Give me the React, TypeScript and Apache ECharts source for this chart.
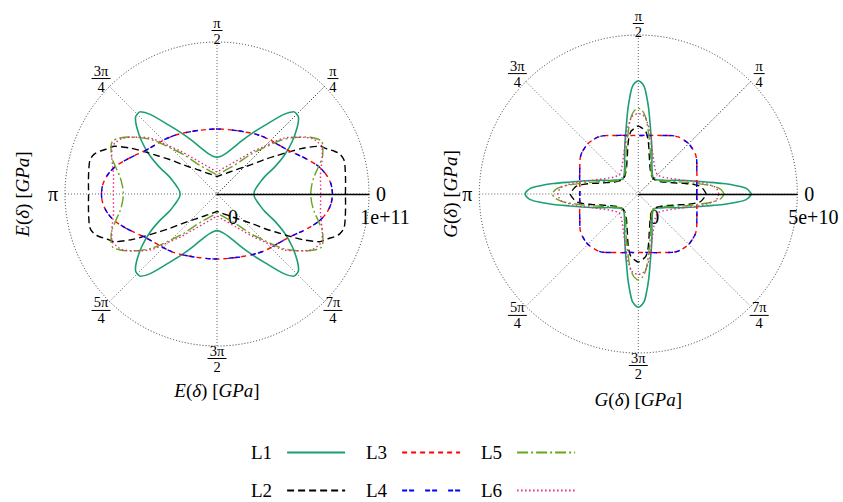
import React, { useEffect, useRef } from 'react';
import * as echarts from 'echarts';

// Directional Young's modulus E(δ) and shear modulus G(δ) for six laminates,
// given over the first quadrant (δ in degrees); the orthotropic symmetry
// (δ → π−δ, π+δ, 2π−δ) completes each curve.
const SERIES_NAMES = ['L1', 'L2', 'L3', 'L4', 'L5', 'L6'];

// E(δ) in Pa: [δ (deg), value]
const E_L1: [number, number][] = [
  [0, 24.3e9], [5, 24.8e9], [10, 26.6e9], [15, 29.3e9], [20, 33.4e9], [25, 41.8e9],
  [30, 51.3e9], [35, 60.5e9], [40, 69.1e9], [43, 73.4e9], [45, 74.3e9], [47, 74.0e9],
  [50, 68.4e9], [55, 55.3e9], [60, 46.1e9], [65, 38.8e9], [70, 32.9e9], [75, 28.9e9],
  [80, 26.3e9], [85, 24.7e9], [90, 24.1e9],
];
const E_L2: [number, number][] = [
  [0, 84.5e9], [5, 84.9e9], [10, 85.7e9], [15, 86.5e9], [18, 84.9e9], [20, 82.2e9],
  [22, 78.6e9], [25, 74.3e9], [28, 64.1e9], [30, 56.1e9], [33, 45.9e9], [36, 38.6e9],
  [40, 30.5e9], [45, 24.9e9], [50, 21.4e9], [55, 18.7e9], [60, 16.7e9], [65, 15.2e9],
  [70, 14.1e9], [75, 13.2e9], [80, 12.5e9], [85, 11.9e9], [90, 11.5e9],
];
const E_L3: [number, number][] = [
  [0, 76.0e9], [5, 75.3e9], [10, 73.0e9], [15, 69.4e9], [20, 64.5e9], [25, 59.9e9],
  [30, 55.9e9], [35, 53.3e9], [40, 51.3e9], [45, 50.0e9], [50, 48.7e9], [55, 47.4e9],
  [60, 46.1e9], [65, 44.9e9], [70, 44.1e9], [75, 43.4e9], [80, 43.0e9], [85, 42.8e9],
  [90, 42.8e9],
];
// L4 coincides with L3
const E_L4: [number, number][] = E_L3;
const E_L5: [number, number][] = [
  [0, 61.6e9], [5, 62.5e9], [10, 64.8e9], [15, 69.1e9], [20, 74.0e9], [24, 76.3e9],
  [27, 77.0e9], [30, 73.7e9], [33, 68.8e9], [36, 63.2e9], [40, 55.3e9], [45, 42.4e9],
  [50, 33.6e9], [55, 25.8e9], [60, 21.3e9], [65, 18.7e9], [70, 16.7e9], [75, 15.3e9],
  [80, 14.1e9], [85, 13.2e9], [90, 12.5e9],
];
const E_L6: [number, number][] = [
  [0, 68.2e9], [5, 68.4e9], [10, 69.1e9], [15, 71.1e9], [20, 73.7e9], [24, 75.7e9],
  [27, 74.7e9], [30, 72.7e9], [33, 68.4e9], [36, 63.5e9], [40, 57.2e9], [45, 44.7e9],
  [50, 36.5e9], [55, 29.6e9], [60, 25.1e9], [65, 21.9e9], [70, 19.5e9], [75, 17.8e9],
  [80, 16.4e9], [85, 15.3e9], [90, 14.5e9],
];

// G(δ) in Pa, sampled at G_ANGLES (deg)
const G_ANGLES = [0, 3, 5, 7, 10, 13, 16, 20, 25, 30, 35, 40, 45, 50, 55, 60, 65, 70, 74, 77, 80, 83, 85, 87, 90];
const G_L1 = [35.6e9, 34.0e9, 30.6e9, 26.9e9, 21.7e9, 18.1e9, 15.4e9, 12.6e9, 10.1e9, 8.7e9, 7.7e9, 7.1e9, 6.8e9,
  7.1e9, 7.7e9, 8.7e9, 10.1e9, 12.6e9, 15.4e9, 18.1e9, 21.7e9, 26.9e9, 30.6e9, 34.0e9, 35.6e9];
const G_L2 = [21.4e9, 20.8e9, 20.3e9, 19.7e9, 17.5e9, 14.8e9, 12.5e9, 10.5e9, 8.8e9, 7.9e9, 7.2e9, 6.9e9, 6.8e9,
  6.9e9, 7.2e9, 7.9e9, 8.8e9, 10.5e9, 12.5e9, 14.8e9, 17.5e9, 19.7e9, 20.3e9, 20.8e9, 21.4e9];
const G_L3 = [18.4e9, 18.4e9, 18.5e9, 18.5e9, 18.7e9, 18.9e9, 19.2e9, 19.6e9, 20.3e9, 21.2e9, 21.9e9, 22.2e9, 22.4e9,
  22.2e9, 21.9e9, 21.2e9, 20.3e9, 19.6e9, 19.2e9, 18.9e9, 18.7e9, 18.5e9, 18.5e9, 18.4e9, 18.4e9];
const G_L4 = G_L3;
const G_L5 = [27.0e9, 26.1e9, 24.6e9, 22.5e9, 18.9e9, 16.1e9, 13.7e9, 11.4e9, 9.3e9, 8.2e9, 7.4e9, 6.9e9, 6.8e9,
  6.9e9, 7.4e9, 8.2e9, 9.3e9, 11.4e9, 13.7e9, 16.1e9, 18.9e9, 22.5e9, 24.6e9, 26.1e9, 27.0e9];
const G_L6 = [25.3e9, 24.9e9, 24.3e9, 22.8e9, 20.4e9, 17.9e9, 15.4e9, 13.4e9, 11.5e9, 10.2e9, 9.3e9, 8.8e9, 8.5e9,
  8.8e9, 9.3e9, 10.2e9, 11.5e9, 13.4e9, 15.4e9, 17.9e9, 20.4e9, 22.8e9, 24.3e9, 24.9e9, 25.3e9];

const E_MAX = 1e11;
const G_MAX = 5e10;

const ANGLE_TICKS = [0, 45, 90, 135, 180, 225, 270, 315];
const ANGLE_TICK_LABELS: (string | [string, string])[] = [
  '0', ['π', '4'], ['π', '2'], ['3π', '4'], 'π', ['5π', '4'], ['3π', '2'], ['7π', '4'],
];

const COLORS = ['#1b9e77', '#000000', '#ff0000', '#0000ff', '#66a61e', '#e7298a'];
const DASHES: (string | number[])[] = ['solid', [7, 4], [5, 4], [5, 2, 5, 11], [11, 3, 2, 3], [1.5, 2.5]];

const SERIF = '"Liberation Serif", "DejaVu Serif", serif';

// first-quadrant samples -> closed loop of [radius, angle]
function fullLoop(pts: [number, number][]): [number, number][] {
  const out: [number, number][] = [];
  const n = pts.length;
  for (let i = 0; i < n; i++) out.push([pts[i][1], pts[i][0]]);
  for (let i = n - 2; i >= 0; i--) out.push([pts[i][1], 180 - pts[i][0]]);
  for (let i = 1; i < n; i++) out.push([pts[i][1], 180 + pts[i][0]]);
  for (let i = n - 2; i >= 0; i--) out.push([pts[i][1], 360 - pts[i][0]]);
  return out;
}

function zip(angles: number[], values: number[]): [number, number][] {
  return angles.map((a, i) => [a, values[i]]);
}

const PLOTS = [
  { cx: 217, cy: 194, r: 152, max: E_MAX, sym: 'E', xLabelY: 390, yLabelX: 22 },
  { cx: 638.3, cy: 194, r: 159, max: G_MAX, sym: 'G', xLabelY: 399, yLabelX: 450 },
];

function quantityLabel(sym: string) {
  return `{i|${sym}}{n|(}{i|δ}{n|) [}{i|GPa}{n|]}`;
}

const LABEL_RICH = {
  i: { fontFamily: SERIF, fontSize: 19, fontStyle: 'italic', fill: '#000', color: '#000' },
  n: { fontFamily: SERIF, fontSize: 19, fill: '#000', color: '#000' },
};

const CENTERED = { align: 'center', verticalAlign: 'middle', textAlign: 'center', textVerticalAlign: 'middle' };

function angleLabelElements(cx: number, cy: number, lr: number) {
  const els: any[] = [];
  ANGLE_TICKS.forEach((deg, k) => {
    const a = (deg * Math.PI) / 180;
    const x = cx + lr * Math.cos(a);
    const y = cy - lr * Math.sin(a);
    const lab = ANGLE_TICK_LABELS[k];
    if (typeof lab === 'string') {
      els.push({
        type: 'text', x, y,
        style: { text: lab, font: `20px ${SERIF}`, fill: '#000', ...CENTERED },
      });
    } else {
      const w = lab[0].length > 1 ? 19 : 11;
      els.push({
        type: 'group', x, y,
        children: [
          { type: 'text', x: 0, y: -7.5, style: { text: lab[0], font: `14.5px ${SERIF}`, fill: '#000', ...CENTERED } },
          { type: 'line', shape: { x1: -w / 2, y1: 0.5, x2: w / 2, y2: 0.5 }, style: { stroke: '#000', lineWidth: 1 } },
          { type: 'text', x: 0, y: 8.5, style: { text: lab[1], font: `14.5px ${SERIF}`, fill: '#000', ...CENTERED } },
        ],
      });
    }
  });
  return els;
}

function radialTickText(v: number) {
  return v === 0 ? '0' : v.toExponential(0);
}

export default function App() {
  const ref = useRef<HTMLDivElement>(null);

  useEffect(() => {
    if (!ref.current) return;
    const chart = echarts.init(ref.current, undefined, { renderer: 'svg' });

    const eData = [E_L1, E_L2, E_L3, E_L4, E_L5, E_L6];
    const gData = [G_L1, G_L2, G_L3, G_L4, G_L5, G_L6].map((v) => zip(G_ANGLES, v));

    const series: any[] = [];
    [eData, gData].forEach((set, p) => {
      set.forEach((pts, k) => {
        series.push({
          type: 'line',
          name: SERIES_NAMES[k],
          coordinateSystem: 'polar',
          polarIndex: p,
          data: fullLoop(pts),
          symbol: 'none',
          smooth: 0.3,
          lineStyle: { color: COLORS[k], width: k === 0 ? 1.6 : 1.4, type: DASHES[k] as any },
          itemStyle: { color: COLORS[k] },
          z: 3 + k,
        });
      });
    });

    const graphic: any[] = [];
    PLOTS.forEach((pl) => {
      graphic.push(...angleLabelElements(pl.cx, pl.cy, pl.r + 12));
      // radial tick labels (0 and the axis maximum), set just below the 0 direction
      [0, pl.max].forEach((v) => {
        const rr = (v / pl.max) * pl.r;
        graphic.push({
          type: 'text', x: pl.cx + rr + 16, y: pl.cy + 23,
          style: { text: radialTickText(v), font: `20px ${SERIF}`, fill: '#000', ...CENTERED },
        });
      });
      graphic.push({
        type: 'text', x: pl.cx, y: pl.xLabelY,
        style: { text: quantityLabel(pl.sym), rich: LABEL_RICH, ...CENTERED },
      });
      graphic.push({
        type: 'text', x: pl.yLabelX, y: pl.cy, rotation: Math.PI / 2,
        style: { text: quantityLabel(pl.sym), rich: LABEL_RICH, ...CENTERED },
      });
    });

    // legend laid out as two rows of three entries
    const legendSlots = [
      { name: 'L1', left: 251, top: 443 },
      { name: 'L3', left: 366, top: 443 },
      { name: 'L5', left: 481, top: 443 },
      { name: 'L2', left: 251, top: 481 },
      { name: 'L4', left: 366, top: 481 },
      { name: 'L6', left: 481, top: 481 },
    ];

    chart.setOption({
      animation: false,
      backgroundColor: '#ffffff',
      polar: PLOTS.map((pl) => ({ center: [pl.cx, pl.cy], radius: pl.r })),
      angleAxis: PLOTS.map((_, p) => ({
        polarIndex: p,
        type: 'value',
        min: 0,
        max: 360,
        interval: 45,
        startAngle: 0,
        clockwise: false,
        axisLine: { show: true, lineStyle: { color: '#333', width: 1, type: [1, 2] } },
        axisTick: { show: false },
        axisLabel: { show: false },
        splitLine: {
          show: true,
          lineStyle: { color: ['#666', '#000', '#666', '#666', '#666', '#666', '#666', '#666'], width: 1, type: [1, 2] },
        },
      })),
      radiusAxis: PLOTS.map((pl, p) => ({
        polarIndex: p,
        type: 'value',
        min: 0,
        max: pl.max,
        interval: pl.max,
        axisLine: { show: true, lineStyle: { color: '#000', width: 1.3 } },
        axisTick: { show: false },
        splitLine: { show: false },
        axisLabel: { show: false },
        z: 10,
      })),
      legend: legendSlots.map((s) => ({
        data: [s.name],
        left: s.left,
        top: s.top,
        orient: 'horizontal',
        align: 'right',
        itemWidth: 58,
        itemHeight: 12,
        padding: 0,
        selectedMode: false,
        itemStyle: { opacity: 0 },
        textStyle: { fontFamily: SERIF, fontSize: 19, color: '#000', padding: [0, 10, 0, 0] },
      })),
      graphic,
      series,
    });

    return () => chart.dispose();
  }, []);

  return (
    <div
      ref={ref}
      style={{ position: 'absolute', left: 0, top: 0, width: 843, height: 502, background: '#fff' }}
    />
  );
}
